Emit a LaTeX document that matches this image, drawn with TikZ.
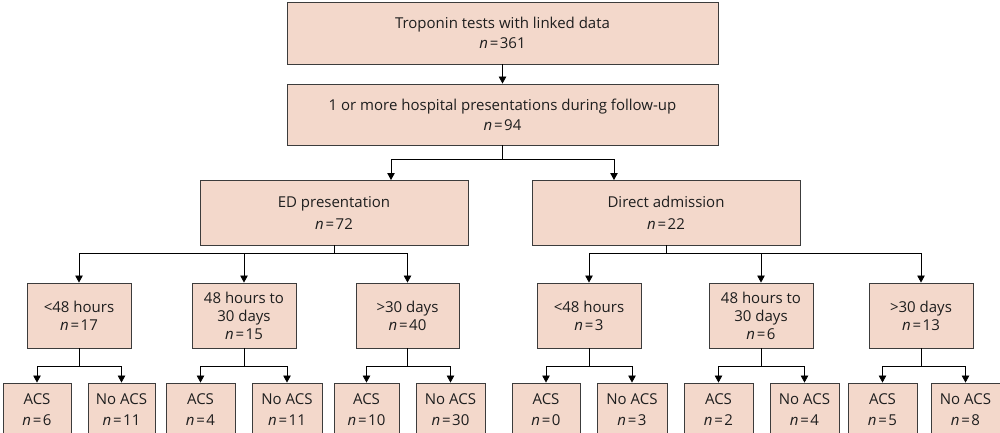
\documentclass[tikz,border=0pt]{standalone}
\usepackage{fontspec}
\setmainfont{Open Sans}
\usetikzlibrary{arrows.meta}
\definecolor{boxfill}{RGB}{243,216,203}
\definecolor{boxline}{RGB}{60,60,60}
\definecolor{txt}{RGB}{30,30,30}
\tikzset{
  bx/.style 2 args={draw=boxline, fill=boxfill, line width=0.9pt, inner sep=0pt,
    minimum width=#1pt, minimum height=#2pt, align=center, text=txt},
  fbig/.style={font=\fontsize{15}{20}\selectfont},
  fmid/.style={font=\fontsize{15}{18}\selectfont},
  flf/.style={font=\fontsize{15}{21}\selectfont},
  conn/.style={draw=black, line width=0.8pt},
  arr/.style={conn, -{Triangle[length=7pt,width=7.5pt]}}
}
\newcommand{\nn}[1]{\textit{n}\kern1.8pt=\kern1.5pt#1}
\begin{document}
\begin{tikzpicture}[x=1pt,y=-1pt]
\useasboundingbox (0,0) rectangle (1000,432);
\clip (0,0) rectangle (1000,432);
\fill[white] (0,0) rectangle (1000,432);

% level 1-2
\node[bx={431}{62}, fbig] (top) at (502.5,33) {Troponin tests with linked data\\\nn{361}};
\node[bx={431}{61}, fbig] (pres) at (502.5,114.5) {1 or more hospital presentations during follow-up\\\nn{94}};
% level 3
\node[bx={268}{65}, font=\fontsize{15}{22}\selectfont] (ed) at (334,212.5) {ED presentation\\\nn{72}};
\node[bx={268}{65}, font=\fontsize{15}{22}\selectfont] (da) at (666,212.5) {Direct admission\\\nn{22}};
% level 4
\node[bx={104}{65}, fmid] (l1) at (79,315.5) {<48 hours\\\nn{17}};
\node[bx={104}{65}, fmid] (l2) at (244,315.5) {48 hours to\\30 days\\\nn{15}};
\node[bx={103}{65}, fmid] (l3) at (407.5,315.5) {>30 days\\\nn{40}};
\node[bx={104}{65}, fmid] (r1) at (589,315.5) {<48 hours\\\nn{3}};
\node[bx={104}{65}, fmid] (r2) at (761,315.5) {48 hours to\\30 days\\\nn{6}};
\node[bx={104}{65}, fmid] (r3) at (921,315.5) {>30 days\\\nn{13}};
% leaves
\node[bx={68}{53}, flf] (a1) at (37,409.5) {ACS\\\nn{6}};
\node[bx={67}{53}, flf] (b1) at (121.5,409.5) {No ACS\\\nn{11}};
\node[bx={69}{53}, flf] (a2) at (200.5,409.5) {ACS\\\nn{4}};
\node[bx={70}{53}, flf] (b2) at (287,409.5) {No ACS\\\nn{11}};
\node[bx={65}{53}, flf] (a3) at (366.5,409.5) {ACS\\\nn{10}};
\node[bx={69}{53}, flf] (b3) at (450.5,409.5) {No ACS\\\nn{30}};
\node[bx={68}{53}, flf] (a4) at (546,409.5) {ACS\\\nn{0}};
\node[bx={70}{53}, flf] (b4) at (632,409.5) {No ACS\\\nn{3}};
\node[bx={69}{53}, flf] (a5) at (718.5,409.5) {ACS\\\nn{2}};
\node[bx={69}{53}, flf] (b5) at (804.5,409.5) {No ACS\\\nn{4}};
\node[bx={69}{53}, flf] (a6) at (882.5,409.5) {ACS\\\nn{5}};
\node[bx={69}{53}, flf] (b6) at (965.5,409.5) {No ACS\\\nn{8}};

% connectors
\draw[arr] (top.south) -- (pres.north);
\coordinate (edin) at (391,180);
\coordinate (dain) at (614,180);
\draw[arr] (pres.south) -- ++(0,13.5) -| (edin);
\draw[arr] (pres.south) -- ++(0,13.5) -| (dain);

\foreach \p/\c in {ed/l1, ed/l2, ed/l3, da/r1, da/r2, da/r3}{
  \draw[arr] (\p.south) -- ++(0,8) -| (\c.north);
}
\foreach \p/\a/\b in {l1/a1/b1, l2/a2/b2, l3/a3/b3, r1/a4/b4, r2/a5/b5, r3/a6/b6}{
  \draw[arr] (\p.south) -- ++(0,18) -| (\a.north);
  \draw[arr] (\p.south) -- ++(0,18) -| (\b.north);
}
\end{tikzpicture}
\end{document}
